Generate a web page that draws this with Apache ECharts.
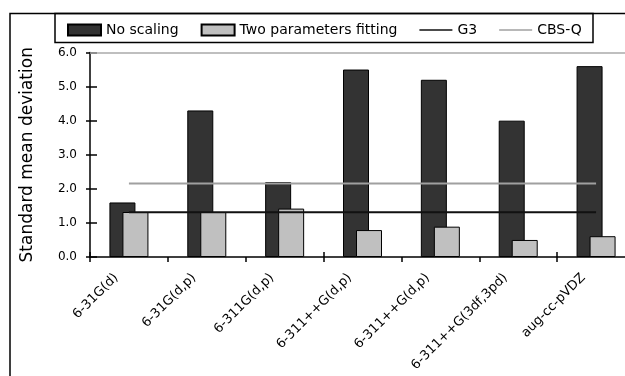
<!DOCTYPE html>
<html>
<head>
<meta charset="utf-8">
<script src="https://cdn.jsdelivr.net/npm/echarts@6/dist/echarts.min.js"></script>
<style>html,body{margin:0;padding:0;background:#fff}#c{width:625px;height:376px}</style>
</head>
<body>
<div id="c"></div>
<script>
var categories = ["6-31G(d)", "6-31G(d,p)", "6-311G(d,p)", "6-311++G(d,p)", "6-311++G(d,p)", "6-311++G(3df,3pd)", "aug-cc-pVDZ"];
var noScaling = [1.6, 4.3, 2.2, 5.5, 5.2, 4.0, 5.6];
var twoParam = [1.32, 1.32, 1.42, 0.79, 0.89, 0.5, 0.61];
var g3Value = 1.31;
var cbsqValue = 2.16;
var yTicks = [0, 1, 2, 3, 4, 5, 6];

var g3 = categories.map(function () { return g3Value; });
var cbsq = categories.map(function () { return cbsqValue; });

var FONT = 'DejaVu Sans';
var LINE_ICON = 'path://M0,0H40V2H0Z';
var chart = echarts.init(document.getElementById('c'), null, {renderer: 'canvas'});
chart.setOption({
  animation: false,
  backgroundColor: '#fff',
  textStyle: {fontFamily: FONT, color: '#000'},
  grid: {left: 90, top: 52.5, width: 545, bottom: 119, containLabel: false, outerBoundsMode: 'none'},
  legend: {
    left: 67, top: 23, padding: 0, itemGap: 22,
    itemWidth: 33, itemHeight: 11,
    textStyle: {fontFamily: FONT, fontSize: 14, color: '#000'},
    data: [
      {name: 'No scaling', icon: 'rect'},
      {name: 'Two parameters fitting', icon: 'rect'},
      {name: 'G3', icon: LINE_ICON},
      {name: 'CBS-Q', icon: LINE_ICON}
    ]
  },
  graphic: [
    {type: 'polyline', shape: {points: [[10, 376], [10, 13.5], [625, 13.5]]}, style: {stroke: '#000', lineWidth: 1.5, fill: null}, z: 10},
    {type: 'rect', shape: {x: 55, y: 13.5, width: 538, height: 29}, style: {stroke: '#000', lineWidth: 1.5, fill: null}, z: 10}
  ],
  xAxis: [
    {
      type: 'category', data: categories,
      axisLine: {show: true, lineStyle: {color: '#000', width: 1.5}},
      axisTick: {show: true, inside: false, length: 5, lineStyle: {color: '#000', width: 1.5}},
      axisLabel: {rotate: 45, margin: 6, interval: 0, fontSize: 13, fontFamily: FONT, color: '#000', padding: [0, 18, 0, 0]},
      splitLine: {show: false}
    },
    {
      type: 'category', data: categories, position: 'bottom',
      axisLine: {show: false},
      axisTick: {show: true, inside: true, length: 5, lineStyle: {color: '#000', width: 1.5}},
      axisLabel: {show: false},
      splitLine: {show: false}
    }
  ],
  yAxis: [
    {
      type: 'value', min: 0, max: 6, interval: 1, position: 'left',
      name: 'Standard mean deviation', nameLocation: 'middle', nameGap: 54,
      nameTextStyle: {fontFamily: FONT, fontSize: 17, color: '#000'},
      axisLine: {show: true, lineStyle: {color: '#000', width: 1.5}},
      axisTick: {show: true, inside: false, length: 4, lineStyle: {color: '#000', width: 1.5}},
      axisLabel: {fontSize: 12, fontFamily: FONT, color: '#000', margin: 13,
        formatter: function (v) { return v.toFixed(1); }},
      splitLine: {show: false}
    },
    {
      type: 'value', min: 0, max: 6, interval: 1, position: 'left',
      axisLine: {show: false},
      axisTick: {show: true, inside: true, length: 7, lineStyle: {color: '#000', width: 1.5}},
      axisLabel: {show: false},
      splitLine: {show: false}
    }
  ],
  series: [
    {
      name: 'No scaling', type: 'bar', data: noScaling, barWidth: 26, barGap: '-50%',
      itemStyle: {color: '#333333', borderColor: '#000', borderWidth: 1},
      markLine: {
        silent: true, symbol: ['none', 'none'], label: {show: false},
        lineStyle: {color: '#aaaaaa', type: 'solid', width: 1.5},
        data: [{yAxis: 6}]
      }
    },
    {
      name: 'Two parameters fitting', type: 'bar', data: twoParam, barWidth: 26,
      itemStyle: {color: '#c0c0c0', borderColor: '#000', borderWidth: 1}
    },
    {
      name: 'G3', type: 'line', data: g3, symbol: 'none', showSymbol: false,
      lineStyle: {color: '#111', width: 2}, itemStyle: {color: '#111'}, z: 5
    },
    {
      name: 'CBS-Q', type: 'line', data: cbsq, symbol: 'none', showSymbol: false,
      lineStyle: {color: '#a0a0a0', width: 2}, itemStyle: {color: '#a0a0a0'}, z: 5
    }
  ]
});
</script>
</body>
</html>
